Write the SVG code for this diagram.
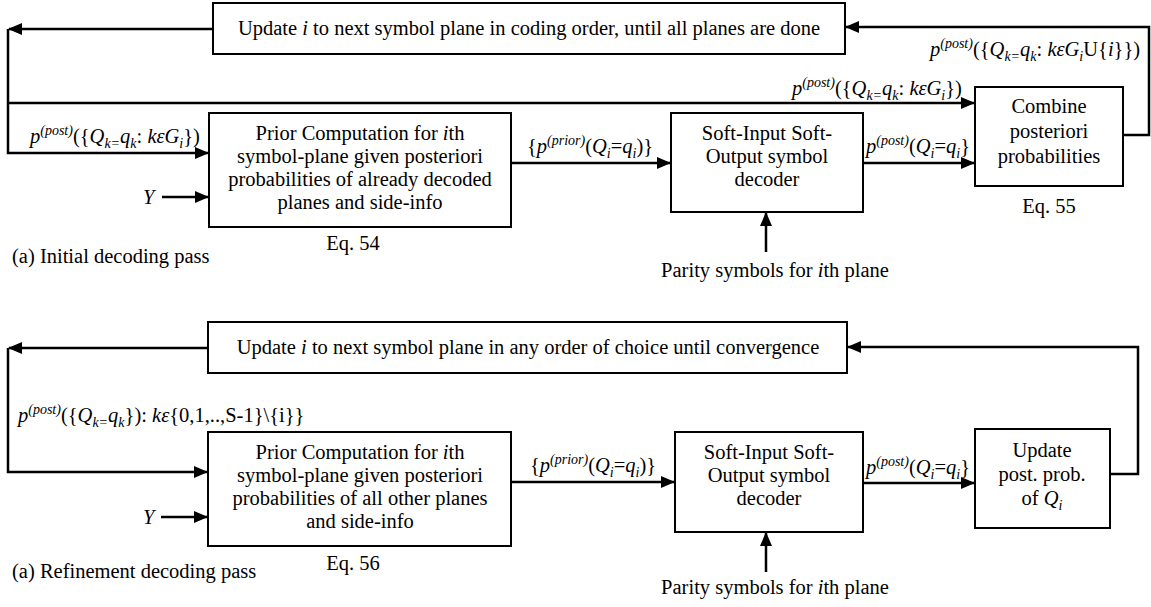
<svg xmlns="http://www.w3.org/2000/svg" width="1151" height="607" viewBox="0 0 1151 607">
<defs>
<style>
text{font-family:'Liberation Serif','Times New Roman',Times,serif;font-size:20.5px;fill:#000}
.c{text-anchor:middle}
.it{font-style:italic}
.sm{font-size:14px}
.box{fill:#fff;stroke:#000;stroke-width:2}
.ln{fill:none;stroke:#000;stroke-width:2.5}
</style>
<marker id="ah" markerUnits="userSpaceOnUse" markerWidth="14" markerHeight="14" viewBox="0 0 14 14" refX="13" refY="7" orient="auto">
<path d="M0,1 L14,7 L0,13 Z" fill="#000"/>
</marker>
</defs>

<g id="connectors">
<path class="ln" d="M213,29 L9,29" marker-end="url(#ah)"/>
<path class="ln" d="M8,29 L8,153 L208,153" marker-end="url(#ah)"/>
<path class="ln" d="M8,103 L974,103" marker-end="url(#ah)"/>
<path class="ln" d="M162,197 L208,197" marker-end="url(#ah)"/>
<path class="ln" d="M511,163 L670,163" marker-end="url(#ah)"/>
<path class="ln" d="M863,163 L974,163" marker-end="url(#ah)"/>
<path class="ln" d="M766,252 L766,213" marker-end="url(#ah)"/>
<path class="ln" d="M1123,135 L1149,135 L1149,27 L846,27" marker-end="url(#ah)"/>
<path class="ln" d="M208,348 L9,348" marker-end="url(#ah)"/>
<path class="ln" d="M8,348 L8,472 L207,472" marker-end="url(#ah)"/>
<path class="ln" d="M161,517 L207,517" marker-end="url(#ah)"/>
<path class="ln" d="M511,482 L674,482" marker-end="url(#ah)"/>
<path class="ln" d="M863,483 L974,483" marker-end="url(#ah)"/>
<path class="ln" d="M766,572 L766,533" marker-end="url(#ah)"/>
<path class="ln" d="M1110,474 L1138,474 L1138,347 L848,347" marker-end="url(#ah)"/>
</g>

<g id="top-update">
<rect class="box" x="213" y="3" width="632" height="51"/>
<text x="529" y="35" class="c">Update <tspan class="it">i</tspan> to next symbol plane in coding order, until all planes are done</text>
</g>
<g id="top-prior">
<rect class="box" x="209" y="113" width="302" height="114"/>
<text x="360" y="140" class="c">Prior Computation for <tspan class="it">i</tspan>th</text>
<text x="360" y="163" class="c">symbol-plane given posteriori</text>
<text x="360" y="186" class="c">probabilities of already decoded</text>
<text x="360" y="209" class="c">planes and side-info</text>
</g>
<g id="top-siso">
<rect class="box" x="671" y="113" width="192" height="99"/>
<text x="767" y="140" class="c">Soft-Input Soft-</text>
<text x="767" y="163" class="c">Output symbol</text>
<text x="767" y="186" class="c">decoder</text>
</g>
<g id="top-combine">
<rect class="box" x="975" y="87" width="148" height="99"/>
<text x="1049" y="113" class="c">Combine</text>
<text x="1049" y="138" class="c">posteriori</text>
<text x="1049" y="163" class="c">probabilities</text>
</g>

<g id="top-labels">
<text x="30" y="143"><tspan class="it">p</tspan><tspan class="it sm" dy="-8">(post)</tspan><tspan dy="8">({</tspan><tspan class="it">Q</tspan><tspan class="it sm" dy="5">k=</tspan><tspan class="it" dy="-5">q</tspan><tspan class="it sm" dy="5">k</tspan><tspan dy="-5">: </tspan><tspan class="it">kεG</tspan><tspan class="it sm" dy="5">i</tspan><tspan dy="-5">})</tspan></text>
<text x="792" y="95"><tspan class="it">p</tspan><tspan class="it sm" dy="-8">(post)</tspan><tspan dy="8">({</tspan><tspan class="it">Q</tspan><tspan class="it sm" dy="5">k=</tspan><tspan class="it" dy="-5">q</tspan><tspan class="it sm" dy="5">k</tspan><tspan dy="-5">: </tspan><tspan class="it">kεG</tspan><tspan class="it sm" dy="5">i</tspan><tspan dy="-5">})</tspan></text>
<text x="930" y="56"><tspan class="it">p</tspan><tspan class="it sm" dy="-8">(post)</tspan><tspan dy="8">({</tspan><tspan class="it">Q</tspan><tspan class="it sm" dy="5">k=</tspan><tspan class="it" dy="-5">q</tspan><tspan class="it sm" dy="5">k</tspan><tspan dy="-5">: </tspan><tspan class="it">kεG</tspan><tspan class="it sm" dy="5">i</tspan><tspan dy="-5">U{</tspan><tspan class="it">i</tspan><tspan>}})</tspan></text>
<text x="527" y="153">{<tspan class="it">p</tspan><tspan class="it sm" dy="-8">(prior)</tspan><tspan dy="8">(</tspan><tspan class="it">Q</tspan><tspan class="it sm" dy="5">i</tspan><tspan dy="-5">=</tspan><tspan class="it">q</tspan><tspan class="it sm" dy="5">i</tspan><tspan dy="-5">)}</tspan></text>
<text x="866" y="153"><tspan class="it">p</tspan><tspan class="it sm" dy="-8">(post)</tspan><tspan dy="8">(</tspan><tspan class="it">Q</tspan><tspan class="it sm" dy="5">i</tspan><tspan dy="-5">=</tspan><tspan class="it">q</tspan><tspan class="it sm" dy="5">i</tspan><tspan dy="-5">}</tspan></text>
<text x="143" y="204" class="it">Y</text>
<text x="353" y="250" class="c">Eq. 54</text>
<text x="1049" y="213" class="c">Eq. 55</text>
<text x="12" y="263">(a) Initial decoding pass</text>
<text x="775" y="277" class="c">Parity symbols for <tspan class="it">i</tspan>th plane</text>
</g>

<g id="bottom-update">
<rect class="box" x="208" y="322" width="639" height="51"/>
<text x="528" y="354" class="c">Update <tspan class="it">i</tspan> to next symbol plane in any order of choice until convergence</text>
</g>
<g id="bottom-prior">
<rect class="box" x="208" y="432" width="303" height="114"/>
<text x="360" y="459" class="c">Prior Computation for <tspan class="it">i</tspan>th</text>
<text x="360" y="482" class="c">symbol-plane given posteriori</text>
<text x="360" y="505" class="c">probabilities of all other planes</text>
<text x="360" y="528" class="c">and side-info</text>
</g>
<g id="bottom-siso">
<rect class="box" x="675" y="432" width="188" height="100"/>
<text x="769" y="459" class="c">Soft-Input Soft-</text>
<text x="769" y="482" class="c">Output symbol</text>
<text x="769" y="505" class="c">decoder</text>
</g>
<g id="bottom-updatepost">
<rect class="box" x="975" y="429" width="135" height="99"/>
<text x="1042" y="457" class="c">Update</text>
<text x="1042" y="481" class="c">post. prob.</text>
<text x="1042" y="505" class="c">of <tspan class="it">Q</tspan><tspan class="it sm" dy="5">i</tspan></text>
</g>

<g id="bottom-labels">
<text x="18" y="422"><tspan class="it">p</tspan><tspan class="it sm" dy="-8">(post)</tspan><tspan dy="8">({</tspan><tspan class="it">Q</tspan><tspan class="it sm" dy="5">k=</tspan><tspan class="it" dy="-5">q</tspan><tspan class="it sm" dy="5">k</tspan><tspan dy="-5">}): </tspan><tspan class="it">kε</tspan><tspan>{0,1,..,S-1}\{i}}</tspan></text>
<text x="530" y="472">{<tspan class="it">p</tspan><tspan class="it sm" dy="-8">(prior)</tspan><tspan dy="8">(</tspan><tspan class="it">Q</tspan><tspan class="it sm" dy="5">i</tspan><tspan dy="-5">=</tspan><tspan class="it">q</tspan><tspan class="it sm" dy="5">i</tspan><tspan dy="-5">)}</tspan></text>
<text x="866" y="474"><tspan class="it">p</tspan><tspan class="it sm" dy="-8">(post)</tspan><tspan dy="8">(</tspan><tspan class="it">Q</tspan><tspan class="it sm" dy="5">i</tspan><tspan dy="-5">=</tspan><tspan class="it">q</tspan><tspan class="it sm" dy="5">i</tspan><tspan dy="-5">}</tspan></text>
<text x="143" y="524" class="it">Y</text>
<text x="353" y="570" class="c">Eq. 56</text>
<text x="12" y="578">(a) Refinement decoding pass</text>
<text x="775" y="594" class="c">Parity symbols for <tspan class="it">i</tspan>th plane</text>
</g>
</svg>
